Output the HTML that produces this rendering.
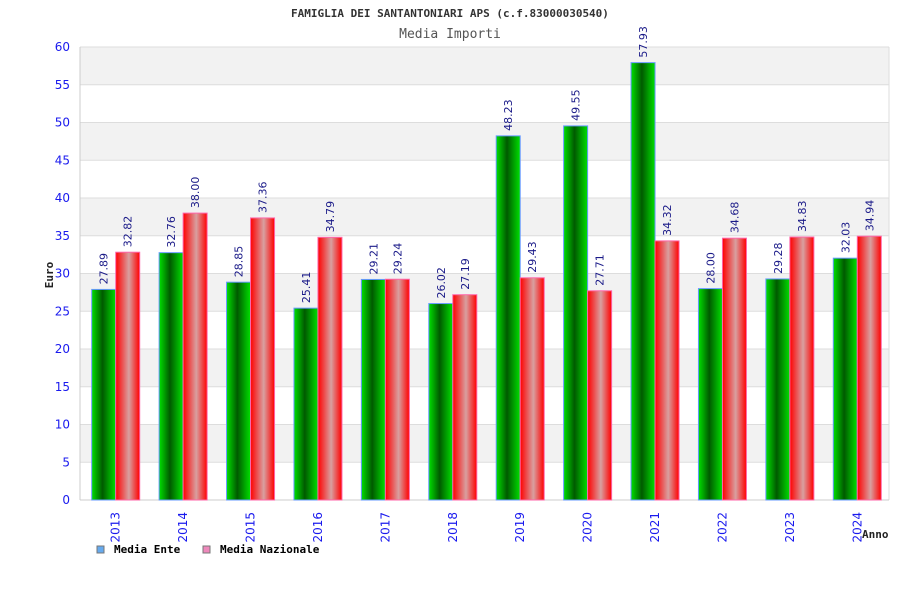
<!DOCTYPE html>
<html><head><meta charset="utf-8"><style>
body{margin:0;background:#fff;}
svg text{font-family:"DejaVu Sans Mono","Liberation Mono",monospace;}
svg text.sans{font-family:"DejaVu Sans","Liberation Sans",sans-serif;}
</style></head><body>
<svg id="chart" width="900" height="600" xmlns="http://www.w3.org/2000/svg">
<defs>
<linearGradient id="gG" x1="0" x2="1" y1="0" y2="0"><stop offset="0" stop-color="#00e000"/><stop offset="0.45" stop-color="#005a00"/><stop offset="1" stop-color="#00e000"/></linearGradient>
<linearGradient id="gR" x1="0" x2="1" y1="0" y2="0"><stop offset="0" stop-color="#ff0000"/><stop offset="0.55" stop-color="#d8a0a0"/><stop offset="1" stop-color="#ff0000"/></linearGradient>
</defs>
<text x="450" y="17" text-anchor="middle" font-size="11" font-weight="bold" fill="#333">FAMIGLIA DEI SANTANTONIARI APS (c.f.83000030540)</text>
<text x="450" y="38" text-anchor="middle" font-size="13" fill="#555">Media Importi</text>
<g id="grid"></g>
<g id="bars"></g>
<text x="53" y="275" text-anchor="middle" font-size="11" font-weight="bold" fill="#222" transform="rotate(-90 53 275)">Euro</text>
<text x="862" y="538" font-size="11" font-weight="bold" fill="#222">Anno</text>
<g><rect x="97" y="546" width="7" height="7" fill="#66aaee" stroke="#777"/><text x="114" y="553" font-size="11" font-weight="bold" fill="#000">Media Ente</text></g>
<g><rect x="203" y="546" width="7" height="7" fill="#ee88bb" stroke="#777"/><text x="220" y="553" font-size="11" font-weight="bold" fill="#000">Media Nazionale</text></g>
</svg>
<script>
const years=["2013","2014","2015","2016","2017","2018","2019","2020","2021","2022","2023","2024"];
const ente=[27.89,32.76,28.85,25.41,29.21,26.02,48.23,49.55,57.93,28.00,29.28,32.03];
const nazionale=[32.82,38.00,37.36,34.79,29.24,27.19,29.43,27.71,34.32,34.68,34.83,34.94];
const yTicks=[0,5,10,15,20,25,30,35,40,45,50,55,60];
const NS="http://www.w3.org/2000/svg";
const L=80,R=889,T=47,B=500,YMAX=60;
const y=v=>B-(v/YMAX)*(B-T);
const bw=(R-L)/years.length;
const x=i=>L+i*bw;
function mk(t,a,p){const e=document.createElementNS(NS,t);for(const k in a)e.setAttribute(k,a[k]);p.appendChild(e);return e;}
const grid=document.getElementById('grid'),bars=document.getElementById('bars');
for(let i=0;i<yTicks.length-1;i++){
  const r=mk('rect',{x:L,y:y(yTicks[i+1]),width:R-L,height:y(yTicks[i])-y(yTicks[i+1]),fill:(i%2)?'#f2f2f2':'#fff'},grid);
  
  
}
yTicks.forEach(v=>{
  const l=mk('line',{x1:L,x2:R,y1:y(v),y2:y(v),stroke:'#ddd'},grid);
  
  
  const t=mk('text',{x:L-10,y:y(v)+4,'text-anchor':'end','font-size':12,fill:'#1a1aee',class:'sans'},grid);
  t.textContent=v;
  
  
});
mk('line',{x1:L,x2:L,y1:T,y2:B,stroke:'#ccc'},grid);
mk('line',{x1:R,x2:R,y1:T,y2:B,stroke:'#ddd'},grid);
mk('line',{x1:L,x2:R,y1:B,y2:B,stroke:'#ccc'},grid);
years.forEach((yr,i)=>{
  const cx=x(i)+bw/2+2, w=24;
  [[ente[i],'url(#gG)','#6699ff',cx-w,'bar-ente'],[nazionale[i],'url(#gR)','#ff66aa',cx,'bar-nazionale']].forEach(([v,f,s,bx,nm])=>{
    const r=mk('rect',{x:bx,y:y(v),width:w,height:B-y(v),fill:f,stroke:s,'stroke-width':1},bars);
    
    
    const tx=bx+w/2+4,ty=y(v)-5;
    const t=mk('text',{x:tx,y:ty,'font-size':11,fill:'#1a1a88',class:'sans',transform:`rotate(-90 ${tx} ${ty})`},bars);
    t.textContent=v.toFixed(2);
    
    
  });
  const lx=cx+4,ly=512;
  const t=mk('text',{x:lx,y:ly,'font-size':12,fill:'#1a1aee','text-anchor':'end',class:'sans',transform:`rotate(-90 ${lx} ${ly})`},bars);
  t.textContent=yr;
  
  
});
</script>
</body></html>
